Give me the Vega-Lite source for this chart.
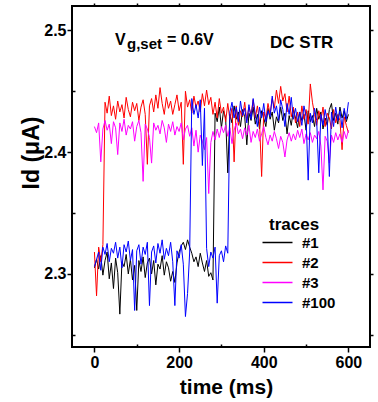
{
"$schema": "https://vega.github.io/schema/vega-lite/v6.json",
"width": 298, "height": 341,
"autosize": "none",
"padding": {"left": 72, "top": 6, "right": 8, "bottom": 55},
"background": "white",
"config": {
  "view": {"stroke": "black", "strokeWidth": 2},
  "font": "Liberation Sans",
  "axis": {"grid": false, "domain": false, "tickColor": "black", "tickWidth": 1.5, "labelFont": "Liberation Sans", "labelFontWeight": "bold", "labelColor": "black", "titleFont": "Liberation Sans", "titleColor": "black", "titleFontWeight": "bold"}
},
"datasets": {
"d": [
{"s":"#1","t":0,"v":2.305},{"s":"#1","t":5,"v":2.312},{"s":"#1","t":10,"v":2.304},{"s":"#1","t":15,"v":2.315},{"s":"#1","t":20,"v":2.299},{"s":"#1","t":25,"v":2.311},{"s":"#1","t":30,"v":2.318},{"s":"#1","t":35,"v":2.296},{"s":"#1","t":40,"v":2.309},{"s":"#1","t":45,"v":2.288},{"s":"#1","t":50,"v":2.313},{"s":"#1","t":55,"v":2.301},{"s":"#1","t":60,"v":2.267},{"s":"#1","t":65,"v":2.310},{"s":"#1","t":70,"v":2.306},{"s":"#1","t":75,"v":2.316},{"s":"#1","t":80,"v":2.300},{"s":"#1","t":85,"v":2.312},{"s":"#1","t":90,"v":2.295},{"s":"#1","t":95,"v":2.307},{"s":"#1","t":100,"v":2.270},{"s":"#1","t":105,"v":2.311},{"s":"#1","t":110,"v":2.302},{"s":"#1","t":115,"v":2.314},{"s":"#1","t":120,"v":2.297},{"s":"#1","t":125,"v":2.309},{"s":"#1","t":130,"v":2.313},{"s":"#1","t":135,"v":2.300},{"s":"#1","t":140,"v":2.311},{"s":"#1","t":145,"v":2.291},{"s":"#1","t":150,"v":2.308},{"s":"#1","t":155,"v":2.304},{"s":"#1","t":160,"v":2.315},{"s":"#1","t":165,"v":2.299},{"s":"#1","t":170,"v":2.310},{"s":"#1","t":175,"v":2.305},{"s":"#1","t":180,"v":2.294},{"s":"#1","t":185,"v":2.302},{"s":"#1","t":190,"v":2.293},{"s":"#1","t":195,"v":2.309},{"s":"#1","t":200,"v":2.318},{"s":"#1","t":205,"v":2.323},{"s":"#1","t":210,"v":2.326},{"s":"#1","t":215,"v":2.320},{"s":"#1","t":220,"v":2.328},{"s":"#1","t":225,"v":2.322},{"s":"#1","t":230,"v":2.317},{"s":"#1","t":235,"v":2.310},{"s":"#1","t":240,"v":2.314},{"s":"#1","t":245,"v":2.306},{"s":"#1","t":250,"v":2.317},{"s":"#1","t":255,"v":2.309},{"s":"#1","t":260,"v":2.302},{"s":"#1","t":265,"v":2.311},{"s":"#1","t":270,"v":2.298},{"s":"#1","t":275,"v":2.301},{"s":"#1","t":280,"v":2.295},{"s":"#1","t":285,"v":2.432},{"s":"#1","t":290,"v":2.425},{"s":"#1","t":295,"v":2.437},{"s":"#1","t":300,"v":2.420},{"s":"#1","t":305,"v":2.434},{"s":"#1","t":310,"v":2.428},{"s":"#1","t":315,"v":2.383},{"s":"#1","t":320,"v":2.431},{"s":"#1","t":325,"v":2.424},{"s":"#1","t":330,"v":2.438},{"s":"#1","t":335,"v":2.427},{"s":"#1","t":340,"v":2.433},{"s":"#1","t":345,"v":2.421},{"s":"#1","t":350,"v":2.435},{"s":"#1","t":355,"v":2.429},{"s":"#1","t":360,"v":2.406},{"s":"#1","t":365,"v":2.432},{"s":"#1","t":370,"v":2.426},{"s":"#1","t":375,"v":2.437},{"s":"#1","t":380,"v":2.423},{"s":"#1","t":385,"v":2.431},{"s":"#1","t":390,"v":2.419},{"s":"#1","t":395,"v":2.434},{"s":"#1","t":400,"v":2.428},{"s":"#1","t":405,"v":2.421},{"s":"#1","t":410,"v":2.436},{"s":"#1","t":415,"v":2.427},{"s":"#1","t":420,"v":2.433},{"s":"#1","t":425,"v":2.418},{"s":"#1","t":430,"v":2.429},{"s":"#1","t":435,"v":2.424},{"s":"#1","t":440,"v":2.437},{"s":"#1","t":445,"v":2.426},{"s":"#1","t":450,"v":2.432},{"s":"#1","t":455,"v":2.415},{"s":"#1","t":460,"v":2.430},{"s":"#1","t":465,"v":2.422},{"s":"#1","t":470,"v":2.435},{"s":"#1","t":475,"v":2.428},{"s":"#1","t":480,"v":2.420},{"s":"#1","t":485,"v":2.433},{"s":"#1","t":490,"v":2.426},{"s":"#1","t":495,"v":2.431},{"s":"#1","t":500,"v":2.418},{"s":"#1","t":505,"v":2.434},{"s":"#1","t":510,"v":2.425},{"s":"#1","t":515,"v":2.430},{"s":"#1","t":520,"v":2.421},{"s":"#1","t":525,"v":2.436},{"s":"#1","t":530,"v":2.427},{"s":"#1","t":535,"v":2.433},{"s":"#1","t":540,"v":2.419},{"s":"#1","t":545,"v":2.428},{"s":"#1","t":550,"v":2.422},{"s":"#1","t":555,"v":2.435},{"s":"#1","t":560,"v":2.440},{"s":"#1","t":565,"v":2.426},{"s":"#1","t":570,"v":2.432},{"s":"#1","t":575,"v":2.423},{"s":"#1","t":580,"v":2.437},{"s":"#1","t":585,"v":2.428},{"s":"#1","t":590,"v":2.434},{"s":"#1","t":595,"v":2.425},{"s":"#1","t":600,"v":2.431},
{"s":"#2","t":0,"v":2.318},{"s":"#2","t":5,"v":2.282},{"s":"#2","t":10,"v":2.322},{"s":"#2","t":15,"v":2.310},{"s":"#2","t":20,"v":2.324},{"s":"#2","t":25,"v":2.441},{"s":"#2","t":30,"v":2.432},{"s":"#2","t":35,"v":2.446},{"s":"#2","t":40,"v":2.430},{"s":"#2","t":45,"v":2.438},{"s":"#2","t":50,"v":2.427},{"s":"#2","t":55,"v":2.442},{"s":"#2","t":60,"v":2.433},{"s":"#2","t":65,"v":2.439},{"s":"#2","t":70,"v":2.428},{"s":"#2","t":75,"v":2.445},{"s":"#2","t":80,"v":2.435},{"s":"#2","t":85,"v":2.429},{"s":"#2","t":90,"v":2.441},{"s":"#2","t":95,"v":2.434},{"s":"#2","t":100,"v":2.440},{"s":"#2","t":105,"v":2.426},{"s":"#2","t":110,"v":2.437},{"s":"#2","t":115,"v":2.443},{"s":"#2","t":120,"v":2.431},{"s":"#2","t":125,"v":2.390},{"s":"#2","t":130,"v":2.438},{"s":"#2","t":135,"v":2.444},{"s":"#2","t":140,"v":2.433},{"s":"#2","t":145,"v":2.447},{"s":"#2","t":150,"v":2.436},{"s":"#2","t":155,"v":2.453},{"s":"#2","t":160,"v":2.440},{"s":"#2","t":165,"v":2.431},{"s":"#2","t":170,"v":2.445},{"s":"#2","t":175,"v":2.436},{"s":"#2","t":180,"v":2.442},{"s":"#2","t":185,"v":2.431},{"s":"#2","t":190,"v":2.439},{"s":"#2","t":195,"v":2.447},{"s":"#2","t":200,"v":2.434},{"s":"#2","t":205,"v":2.441},{"s":"#2","t":210,"v":2.390},{"s":"#2","t":215,"v":2.450},{"s":"#2","t":220,"v":2.437},{"s":"#2","t":225,"v":2.443},{"s":"#2","t":230,"v":2.432},{"s":"#2","t":235,"v":2.446},{"s":"#2","t":240,"v":2.437},{"s":"#2","t":245,"v":2.442},{"s":"#2","t":250,"v":2.433},{"s":"#2","t":255,"v":2.448},{"s":"#2","t":260,"v":2.438},{"s":"#2","t":265,"v":2.451},{"s":"#2","t":270,"v":2.439},{"s":"#2","t":275,"v":2.445},{"s":"#2","t":280,"v":2.431},{"s":"#2","t":285,"v":2.441},{"s":"#2","t":290,"v":2.428},{"s":"#2","t":295,"v":2.444},{"s":"#2","t":300,"v":2.432},{"s":"#2","t":305,"v":2.437},{"s":"#2","t":310,"v":2.425},{"s":"#2","t":315,"v":2.440},{"s":"#2","t":320,"v":2.427},{"s":"#2","t":325,"v":2.436},{"s":"#2","t":330,"v":2.392},{"s":"#2","t":335,"v":2.438},{"s":"#2","t":340,"v":2.422},{"s":"#2","t":345,"v":2.434},{"s":"#2","t":350,"v":2.429},{"s":"#2","t":355,"v":2.441},{"s":"#2","t":360,"v":2.426},{"s":"#2","t":365,"v":2.437},{"s":"#2","t":370,"v":2.431},{"s":"#2","t":375,"v":2.443},{"s":"#2","t":380,"v":2.428},{"s":"#2","t":385,"v":2.438},{"s":"#2","t":390,"v":2.425},{"s":"#2","t":395,"v":2.380},{"s":"#2","t":400,"v":2.433},{"s":"#2","t":405,"v":2.427},{"s":"#2","t":410,"v":2.440},{"s":"#2","t":415,"v":2.431},{"s":"#2","t":420,"v":2.444},{"s":"#2","t":425,"v":2.436},{"s":"#2","t":430,"v":2.451},{"s":"#2","t":435,"v":2.440},{"s":"#2","t":440,"v":2.454},{"s":"#2","t":445,"v":2.442},{"s":"#2","t":450,"v":2.448},{"s":"#2","t":455,"v":2.433},{"s":"#2","t":460,"v":2.446},{"s":"#2","t":465,"v":2.429},{"s":"#2","t":470,"v":2.437},{"s":"#2","t":475,"v":2.424},{"s":"#2","t":480,"v":2.433},{"s":"#2","t":485,"v":2.421},{"s":"#2","t":490,"v":2.438},{"s":"#2","t":495,"v":2.427},{"s":"#2","t":500,"v":2.435},{"s":"#2","t":505,"v":2.423},{"s":"#2","t":510,"v":2.456},{"s":"#2","t":515,"v":2.441},{"s":"#2","t":520,"v":2.431},{"s":"#2","t":525,"v":2.422},{"s":"#2","t":530,"v":2.434},{"s":"#2","t":535,"v":2.426},{"s":"#2","t":540,"v":2.437},{"s":"#2","t":545,"v":2.421},{"s":"#2","t":550,"v":2.432},{"s":"#2","t":555,"v":2.428},{"s":"#2","t":560,"v":2.419},{"s":"#2","t":565,"v":2.435},{"s":"#2","t":570,"v":2.424},{"s":"#2","t":575,"v":2.431},{"s":"#2","t":580,"v":2.426},{"s":"#2","t":585,"v":2.402},{"s":"#2","t":590,"v":2.429},{"s":"#2","t":595,"v":2.422},{"s":"#2","t":600,"v":2.416},
{"s":"#3","t":0,"v":2.421},{"s":"#3","t":5,"v":2.416},{"s":"#3","t":10,"v":2.424},{"s":"#3","t":15,"v":2.392},{"s":"#3","t":20,"v":2.419},{"s":"#3","t":25,"v":2.426},{"s":"#3","t":30,"v":2.418},{"s":"#3","t":35,"v":2.423},{"s":"#3","t":40,"v":2.407},{"s":"#3","t":45,"v":2.425},{"s":"#3","t":50,"v":2.420},{"s":"#3","t":55,"v":2.398},{"s":"#3","t":60,"v":2.424},{"s":"#3","t":65,"v":2.417},{"s":"#3","t":70,"v":2.427},{"s":"#3","t":75,"v":2.414},{"s":"#3","t":80,"v":2.422},{"s":"#3","t":85,"v":2.419},{"s":"#3","t":90,"v":2.425},{"s":"#3","t":95,"v":2.409},{"s":"#3","t":100,"v":2.421},{"s":"#3","t":105,"v":2.426},{"s":"#3","t":110,"v":2.416},{"s":"#3","t":115,"v":2.376},{"s":"#3","t":120,"v":2.423},{"s":"#3","t":125,"v":2.419},{"s":"#3","t":130,"v":2.412},{"s":"#3","t":135,"v":2.391},{"s":"#3","t":140,"v":2.424},{"s":"#3","t":145,"v":2.418},{"s":"#3","t":150,"v":2.422},{"s":"#3","t":155,"v":2.415},{"s":"#3","t":160,"v":2.426},{"s":"#3","t":165,"v":2.420},{"s":"#3","t":170,"v":2.408},{"s":"#3","t":175,"v":2.423},{"s":"#3","t":180,"v":2.417},{"s":"#3","t":185,"v":2.425},{"s":"#3","t":190,"v":2.414},{"s":"#3","t":195,"v":2.421},{"s":"#3","t":200,"v":2.417},{"s":"#3","t":205,"v":2.424},{"s":"#3","t":210,"v":2.410},{"s":"#3","t":215,"v":2.419},{"s":"#3","t":220,"v":2.422},{"s":"#3","t":225,"v":2.413},{"s":"#3","t":230,"v":2.420},{"s":"#3","t":235,"v":2.405},{"s":"#3","t":240,"v":2.418},{"s":"#3","t":245,"v":2.400},{"s":"#3","t":250,"v":2.414},{"s":"#3","t":255,"v":2.409},{"s":"#3","t":260,"v":2.402},{"s":"#3","t":265,"v":2.412},{"s":"#3","t":270,"v":2.366},{"s":"#3","t":275,"v":2.408},{"s":"#3","t":280,"v":2.417},{"s":"#3","t":285,"v":2.410},{"s":"#3","t":290,"v":2.419},{"s":"#3","t":295,"v":2.412},{"s":"#3","t":300,"v":2.421},{"s":"#3","t":305,"v":2.416},{"s":"#3","t":310,"v":2.422},{"s":"#3","t":315,"v":2.413},{"s":"#3","t":320,"v":2.420},{"s":"#3","t":325,"v":2.407},{"s":"#3","t":330,"v":2.418},{"s":"#3","t":335,"v":2.424},{"s":"#3","t":340,"v":2.415},{"s":"#3","t":345,"v":2.419},{"s":"#3","t":350,"v":2.411},{"s":"#3","t":355,"v":2.420},{"s":"#3","t":360,"v":2.414},{"s":"#3","t":365,"v":2.422},{"s":"#3","t":370,"v":2.408},{"s":"#3","t":375,"v":2.417},{"s":"#3","t":380,"v":2.412},{"s":"#3","t":385,"v":2.419},{"s":"#3","t":390,"v":2.409},{"s":"#3","t":395,"v":2.415},{"s":"#3","t":400,"v":2.421},{"s":"#3","t":405,"v":2.412},{"s":"#3","t":410,"v":2.406},{"s":"#3","t":415,"v":2.414},{"s":"#3","t":420,"v":2.409},{"s":"#3","t":425,"v":2.417},{"s":"#3","t":430,"v":2.411},{"s":"#3","t":435,"v":2.403},{"s":"#3","t":440,"v":2.413},{"s":"#3","t":445,"v":2.408},{"s":"#3","t":450,"v":2.396},{"s":"#3","t":455,"v":2.410},{"s":"#3","t":460,"v":2.416},{"s":"#3","t":465,"v":2.409},{"s":"#3","t":470,"v":2.415},{"s":"#3","t":475,"v":2.410},{"s":"#3","t":480,"v":2.418},{"s":"#3","t":485,"v":2.412},{"s":"#3","t":490,"v":2.419},{"s":"#3","t":495,"v":2.407},{"s":"#3","t":500,"v":2.415},{"s":"#3","t":505,"v":2.410},{"s":"#3","t":510,"v":2.416},{"s":"#3","t":515,"v":2.408},{"s":"#3","t":520,"v":2.414},{"s":"#3","t":525,"v":2.411},{"s":"#3","t":530,"v":2.417},{"s":"#3","t":535,"v":2.405},{"s":"#3","t":540,"v":2.369},{"s":"#3","t":545,"v":2.413},{"s":"#3","t":550,"v":2.409},{"s":"#3","t":555,"v":2.391},{"s":"#3","t":560,"v":2.414},{"s":"#3","t":565,"v":2.408},{"s":"#3","t":570,"v":2.416},{"s":"#3","t":575,"v":2.410},{"s":"#3","t":580,"v":2.415},{"s":"#3","t":585,"v":2.408},{"s":"#3","t":590,"v":2.417},{"s":"#3","t":595,"v":2.411},{"s":"#3","t":600,"v":2.418},
{"s":"#100","t":0,"v":2.306},{"s":"#100","t":5,"v":2.312},{"s":"#100","t":10,"v":2.318},{"s":"#100","t":15,"v":2.303},{"s":"#100","t":20,"v":2.322},{"s":"#100","t":25,"v":2.316},{"s":"#100","t":30,"v":2.325},{"s":"#100","t":35,"v":2.310},{"s":"#100","t":40,"v":2.321},{"s":"#100","t":45,"v":2.317},{"s":"#100","t":50,"v":2.326},{"s":"#100","t":55,"v":2.313},{"s":"#100","t":60,"v":2.322},{"s":"#100","t":65,"v":2.305},{"s":"#100","t":70,"v":2.324},{"s":"#100","t":75,"v":2.318},{"s":"#100","t":80,"v":2.327},{"s":"#100","t":85,"v":2.311},{"s":"#100","t":90,"v":2.320},{"s":"#100","t":95,"v":2.270},{"s":"#100","t":100,"v":2.319},{"s":"#100","t":105,"v":2.324},{"s":"#100","t":110,"v":2.308},{"s":"#100","t":115,"v":2.322},{"s":"#100","t":120,"v":2.316},{"s":"#100","t":125,"v":2.326},{"s":"#100","t":130,"v":2.274},{"s":"#100","t":135,"v":2.318},{"s":"#100","t":140,"v":2.323},{"s":"#100","t":145,"v":2.309},{"s":"#100","t":150,"v":2.325},{"s":"#100","t":155,"v":2.317},{"s":"#100","t":160,"v":2.328},{"s":"#100","t":165,"v":2.312},{"s":"#100","t":170,"v":2.321},{"s":"#100","t":175,"v":2.315},{"s":"#100","t":180,"v":2.326},{"s":"#100","t":185,"v":2.310},{"s":"#100","t":190,"v":2.274},{"s":"#100","t":195,"v":2.319},{"s":"#100","t":200,"v":2.313},{"s":"#100","t":205,"v":2.324},{"s":"#100","t":210,"v":2.308},{"s":"#100","t":215,"v":2.265},{"s":"#100","t":220,"v":2.284},{"s":"#100","t":225,"v":2.318},{"s":"#100","t":230,"v":2.444},{"s":"#100","t":235,"v":2.431},{"s":"#100","t":240,"v":2.439},{"s":"#100","t":245,"v":2.428},{"s":"#100","t":250,"v":2.443},{"s":"#100","t":255,"v":2.389},{"s":"#100","t":260,"v":2.436},{"s":"#100","t":265,"v":2.321},{"s":"#100","t":270,"v":2.306},{"s":"#100","t":275,"v":2.318},{"s":"#100","t":280,"v":2.313},{"s":"#100","t":285,"v":2.322},{"s":"#100","t":290,"v":2.276},{"s":"#100","t":295,"v":2.315},{"s":"#100","t":300,"v":2.319},{"s":"#100","t":305,"v":2.310},{"s":"#100","t":310,"v":2.323},{"s":"#100","t":315,"v":2.317},{"s":"#100","t":320,"v":2.433},{"s":"#100","t":325,"v":2.441},{"s":"#100","t":330,"v":2.428},{"s":"#100","t":335,"v":2.437},{"s":"#100","t":340,"v":2.425},{"s":"#100","t":345,"v":2.442},{"s":"#100","t":350,"v":2.430},{"s":"#100","t":355,"v":2.436},{"s":"#100","t":360,"v":2.424},{"s":"#100","t":365,"v":2.439},{"s":"#100","t":370,"v":2.427},{"s":"#100","t":375,"v":2.444},{"s":"#100","t":380,"v":2.431},{"s":"#100","t":385,"v":2.421},{"s":"#100","t":390,"v":2.437},{"s":"#100","t":395,"v":2.428},{"s":"#100","t":400,"v":2.440},{"s":"#100","t":405,"v":2.425},{"s":"#100","t":410,"v":2.434},{"s":"#100","t":415,"v":2.429},{"s":"#100","t":420,"v":2.446},{"s":"#100","t":425,"v":2.432},{"s":"#100","t":430,"v":2.438},{"s":"#100","t":435,"v":2.426},{"s":"#100","t":440,"v":2.443},{"s":"#100","t":445,"v":2.435},{"s":"#100","t":450,"v":2.421},{"s":"#100","t":455,"v":2.440},{"s":"#100","t":460,"v":2.431},{"s":"#100","t":465,"v":2.445},{"s":"#100","t":470,"v":2.427},{"s":"#100","t":475,"v":2.436},{"s":"#100","t":480,"v":2.425},{"s":"#100","t":485,"v":2.433},{"s":"#100","t":490,"v":2.422},{"s":"#100","t":495,"v":2.438},{"s":"#100","t":500,"v":2.429},{"s":"#100","t":505,"v":2.377},{"s":"#100","t":510,"v":2.432},{"s":"#100","t":515,"v":2.424},{"s":"#100","t":520,"v":2.436},{"s":"#100","t":525,"v":2.426},{"s":"#100","t":530,"v":2.383},{"s":"#100","t":535,"v":2.431},{"s":"#100","t":540,"v":2.422},{"s":"#100","t":545,"v":2.435},{"s":"#100","t":550,"v":2.425},{"s":"#100","t":555,"v":2.380},{"s":"#100","t":560,"v":2.433},{"s":"#100","t":565,"v":2.421},{"s":"#100","t":570,"v":2.437},{"s":"#100","t":575,"v":2.426},{"s":"#100","t":580,"v":2.434},{"s":"#100","t":585,"v":2.420},{"s":"#100","t":590,"v":2.436},{"s":"#100","t":595,"v":2.427},{"s":"#100","t":600,"v":2.441}
]
},
"layer": [
  {
    "data": {"name": "d"},
    "mark": {"type": "line", "strokeWidth": 1, "clip": true},
    "encoding": {
      "x": {"field": "t", "type": "quantitative", "scale": {"domain": [-53, 651], "nice": false, "zero": false},
        "axis": {"orient": "bottom", "values": [0, 200, 400, 600], "tickSize": 5, "labelPadding": 2, "labelFontSize": 16,
          "title": "time (ms)", "titleFontSize": 21, "titleX": 154, "titleY": 46, "titleBaseline": "alphabetic", "titleAlign": "center"}},
      "y": {"field": "v", "type": "quantitative", "scale": {"domain": [2.24, 2.52], "nice": false, "zero": false},
        "axis": {"orient": "left", "values": [2.3, 2.4, 2.5], "format": ".1f", "tickSize": 5, "labelPadding": 1, "labelFontSize": 16,
          "title": "Id (μA)", "titleFontSize": 23, "titleAngle": 270, "titleX": -34, "titleY": 146.5, "titleBaseline": "alphabetic", "titleAlign": "center"}},
      "color": {"field": "s", "type": "nominal", "sort": ["#1", "#2", "#3", "#100"],
        "scale": {"domain": ["#1", "#2", "#3", "#100"], "range": ["#000000", "#ff0000", "#ff00ff", "#0000ff"]},
        "legend": {"orient": "none", "legendX": 197, "legendY": 211, "title": "traces", "titleFontSize": 17, "titleFontWeight": "bold", "titleColor": "black", "titleFont": "Liberation Sans", "titlePadding": 0,
          "labelFontSize": 15, "labelFontWeight": "bold", "labelColor": "black", "labelFont": "Liberation Sans", "labelOffset": 16,
          "symbolType": "M-2,0H2", "symbolSize": 225, "symbolStrokeWidth": 1.5, "rowPadding": 3, "padding": 0}}
    }
  },
  {
    "data": {"name": "d"},
    "mark": {"type": "point", "opacity": 0},
    "encoding": {
      "x": {"field": "t", "type": "quantitative", "scale": {"domain": [-53, 651], "nice": false, "zero": false},
        "axis": {"orient": "bottom", "values": [100, 300, 500], "tickSize": -3, "labels": false, "title": null}},
      "y": {"field": "v", "type": "quantitative", "scale": {"domain": [2.24, 2.52], "nice": false, "zero": false},
        "axis": {"orient": "left", "values": [2.25, 2.35, 2.45], "tickSize": -3, "labels": false, "title": null}}
    }
  },
  {
    "data": {"name": "d"},
    "mark": {"type": "point", "opacity": 0},
    "encoding": {
      "x": {"field": "t", "type": "quantitative", "scale": {"domain": [-53, 651], "nice": false, "zero": false},
        "axis": {"orient": "top", "values": [0, 100, 200, 300, 400, 500, 600], "tickSize": 3, "labels": false, "title": null}},
      "y": {"field": "v", "type": "quantitative", "scale": {"domain": [2.24, 2.52], "nice": false, "zero": false},
        "axis": {"orient": "right", "values": [2.25, 2.3, 2.35, 2.4, 2.45, 2.5], "tickSize": 3, "labels": false, "title": null}}
    }
  },
  {
    "data": {"values": [{}]},
    "mark": {"type": "text", "text": "V", "font": "Liberation Sans", "fontWeight": "bold", "fontSize": 16, "align": "left", "baseline": "alphabetic", "color": "black"},
    "encoding": {
      "x": {"datum": 48.6, "type": "quantitative", "scale": {"domain": [-53, 651], "nice": false, "zero": false}, "axis": null},
      "y": {"datum": 2.4876, "type": "quantitative", "scale": {"domain": [2.24, 2.52], "nice": false, "zero": false}, "axis": null}
    }
  },
  {
    "data": {"values": [{}]},
    "mark": {"type": "text", "text": "g,set", "font": "Liberation Sans", "fontWeight": "bold", "fontSize": 15, "align": "left", "baseline": "alphabetic", "dx": 12, "dy": 4, "color": "black"},
    "encoding": {
      "x": {"datum": 48.6, "type": "quantitative", "scale": {"domain": [-53, 651], "nice": false, "zero": false}, "axis": null},
      "y": {"datum": 2.4876, "type": "quantitative", "scale": {"domain": [2.24, 2.52], "nice": false, "zero": false}, "axis": null}
    }
  },
  {
    "data": {"values": [{}]},
    "mark": {"type": "text", "text": "= 0.6V", "font": "Liberation Sans", "fontWeight": "bold", "fontSize": 16, "align": "left", "baseline": "alphabetic", "dx": 52, "color": "black"},
    "encoding": {
      "x": {"datum": 48.6, "type": "quantitative", "scale": {"domain": [-53, 651], "nice": false, "zero": false}, "axis": null},
      "y": {"datum": 2.4876, "type": "quantitative", "scale": {"domain": [2.24, 2.52], "nice": false, "zero": false}, "axis": null}
    }
  },
  {
    "data": {"values": [{}]},
    "mark": {"type": "text", "text": "DC STR", "font": "Liberation Sans", "fontWeight": "bold", "fontSize": 17, "align": "left", "baseline": "alphabetic", "color": "black"},
    "encoding": {
      "x": {"datum": 414.8, "type": "quantitative", "scale": {"domain": [-53, 651], "nice": false, "zero": false}, "axis": null},
      "y": {"datum": 2.4853, "type": "quantitative", "scale": {"domain": [2.24, 2.52], "nice": false, "zero": false}, "axis": null}
    }
  }
],
"resolve": {"axis": {"x": "independent", "y": "independent"}}
}
